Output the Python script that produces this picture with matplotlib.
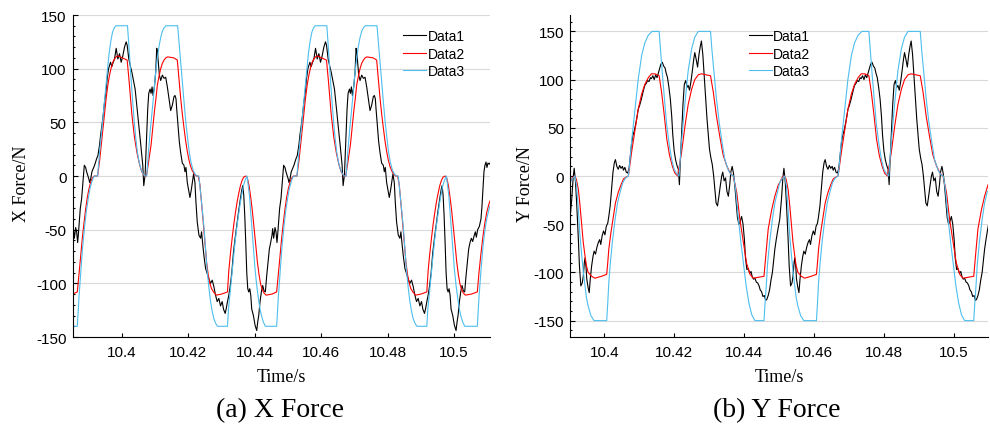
import matplotlib
matplotlib.use("Agg")
import matplotlib.pyplot as plt
from matplotlib.ticker import MultipleLocator

plt.rcParams['font.family'] = ['Liberation Sans', 'DejaVu Sans']
plt.rcParams['axes.unicode_minus'] = False

series_names = ["Data1", "Data2", "Data3"]
x_ticks = [10.4, 10.42, 10.44, 10.46, 10.48, 10.5]
x_tick_labels = ["10.4", "10.42", "10.44", "10.46", "10.48", "10.5"]
y_ticks = [-150, -100, -50, 0, 50, 100, 150]
y_tick_labels = ["-150", "-100", "-50", "0", "50", "100", "150"]

# ---- (a) X Force ----
xf_time1 = [
    10.3852, 10.3854, 10.3857, 10.3861, 10.3864, 10.3867, 10.3869, 10.3872, 10.3875, 10.3879,
    10.3882, 10.3885, 10.3887, 10.3891, 10.3894, 10.3897, 10.3901, 10.3903, 10.3906, 10.3910,
    10.3914, 10.3918, 10.3921, 10.3924, 10.3928, 10.3933, 10.3936, 10.3940, 10.3944, 10.3948,
    10.3952, 10.3956, 10.3960, 10.3963, 10.3966, 10.3970, 10.3974, 10.3978, 10.3983, 10.3988,
    10.3993, 10.3998, 10.4003, 10.4008, 10.4013, 10.4016, 10.4021, 10.4026, 10.4030, 10.4035,
    10.4040, 10.4043, 10.4048, 10.4053, 10.4058, 10.4063, 10.4066, 10.4070, 10.4074, 10.4078,
    10.4081, 10.4085, 10.4088, 10.4091, 10.4094, 10.4098, 10.4102, 10.4105, 10.4107, 10.4110,
    10.4113, 10.4117, 10.4122, 10.4127, 10.4132, 10.4137, 10.4142, 10.4147, 10.4152, 10.4157,
    10.4160, 10.4163, 10.4165, 10.4169, 10.4173, 10.4177, 10.4182, 10.4187, 10.4190, 10.4193,
    10.4197, 10.4202, 10.4205, 10.4209, 10.4213, 10.4216, 10.4220, 10.4223, 10.4227, 10.4232,
    10.4237, 10.4240, 10.4243, 10.4247, 10.4252, 10.4257, 10.4262, 10.4267, 10.4272, 10.4277,
    10.4282, 10.4287, 10.4292, 10.4297, 10.4302, 10.4306, 10.4311, 10.4314, 10.4318, 10.4322,
    10.4326, 10.4331, 10.4336, 10.4341, 10.4346, 10.4351, 10.4356, 10.4361, 10.4364, 10.4367,
    10.4370, 10.4373, 10.4376, 10.4379, 10.4382, 10.4385, 10.4388, 10.4391, 10.4396, 10.4401,
    10.4406, 10.4409, 10.4412, 10.4416, 10.4420, 10.4424, 10.4428, 10.4432, 10.4436, 10.4440,
    10.4444, 10.4448,
    10.4452, 10.4454, 10.4457, 10.4461, 10.4464, 10.4467, 10.4469, 10.4472, 10.4475, 10.4479,
    10.4482, 10.4485, 10.4487, 10.4491, 10.4494, 10.4497, 10.4501, 10.4503, 10.4506, 10.4510,
    10.4514, 10.4518, 10.4521, 10.4524, 10.4528, 10.4533, 10.4536, 10.4540, 10.4544, 10.4548,
    10.4552, 10.4556, 10.4560, 10.4563, 10.4566, 10.4570, 10.4574, 10.4578, 10.4583, 10.4588,
    10.4593, 10.4598, 10.4603, 10.4608, 10.4613, 10.4616, 10.4621, 10.4626, 10.4630, 10.4635,
    10.4640, 10.4643, 10.4648, 10.4653, 10.4658, 10.4663, 10.4666, 10.4670, 10.4674, 10.4678,
    10.4681, 10.4685, 10.4688, 10.4691, 10.4694, 10.4698, 10.4702, 10.4705, 10.4707, 10.4710,
    10.4713, 10.4717, 10.4722, 10.4727, 10.4732, 10.4737, 10.4742, 10.4747, 10.4752, 10.4757,
    10.4760, 10.4763, 10.4765, 10.4769, 10.4773, 10.4777, 10.4782, 10.4787, 10.4790, 10.4793,
    10.4797, 10.4802, 10.4805, 10.4809, 10.4813, 10.4816, 10.4820, 10.4823, 10.4827, 10.4832,
    10.4837, 10.4840, 10.4843, 10.4847, 10.4852, 10.4857, 10.4862, 10.4867, 10.4872, 10.4877,
    10.4882, 10.4887, 10.4892, 10.4897, 10.4902, 10.4906, 10.4911, 10.4914, 10.4918, 10.4922,
    10.4926, 10.4931, 10.4936, 10.4941, 10.4946, 10.4951, 10.4956, 10.4961, 10.4964, 10.4967,
    10.4970, 10.4973, 10.4976, 10.4979, 10.4982, 10.4985, 10.4988, 10.4991, 10.4996, 10.5001,
    10.5006, 10.5009, 10.5012, 10.5016, 10.5020, 10.5024, 10.5028, 10.5032, 10.5036, 10.5040,
    10.5044, 10.5048,
    10.5052, 10.5056, 10.5061, 10.5064, 10.5067, 10.5071, 10.5076, 10.5081, 10.5084, 10.5087,
    10.5090, 10.5093, 10.5096, 10.5099, 10.5102, 10.5106, 10.5110,
]
xf_data1 = [
    -55, -49, -58, -48, -52, -62, -55, -43, -30, -21,
    -9, 4, 10, 8, 4, 1, -3, -6, -3, 4,
    7, 10, 13, 16, 19, 29, 38, 47, 57, 69,
    78, 91, 100, 103, 106, 102, 106, 109, 119, 109,
    114, 106, 112, 120, 125, 122, 109, 102, 97, 89,
    81, 72, 57, 41, 26, 10, -9, 1, 32, 63,
    77, 81, 77, 83, 75, 83, 97, 119, 116, 105,
    94, 89, 94, 91, 92, 83, 72, 61, 66, 74,
    75, 72, 63, 47, 32, 22, 12, 10, 4, 8,
    -6, -15, -20, -13, -4, 2, -6, -24, -43, -55,
    -58, -52, -62, -74, -86, -91, -96, -100, -97, -103,
    -111, -117, -114, -121, -117, -124, -128, -124, -117, -111,
    -103, -90, -71, -58, -46, -34, -23, -13, -9, -18,
    -37, -62, -90, -105, -108, -105, -111, -124, -130, -139,
    -144, -136, -130, -117, -108, -102, -107, -108, -93, -80,
    -68, -62,
    -55, -49, -58, -48, -52, -62, -55, -43, -30, -21,
    -9, 4, 10, 8, 4, 1, -3, -6, -3, 4,
    7, 10, 13, 16, 19, 29, 38, 47, 57, 69,
    78, 91, 100, 103, 106, 102, 106, 109, 119, 109,
    114, 106, 112, 120, 125, 122, 109, 102, 97, 89,
    81, 72, 57, 41, 26, 10, -9, 1, 32, 63,
    77, 81, 77, 83, 75, 83, 97, 119, 116, 105,
    94, 89, 94, 91, 92, 83, 72, 61, 66, 74,
    75, 72, 63, 47, 32, 22, 12, 10, 4, 8,
    -6, -15, -20, -13, -4, 2, -6, -24, -43, -55,
    -58, -52, -62, -74, -86, -91, -96, -100, -97, -103,
    -111, -117, -114, -121, -117, -124, -128, -124, -117, -111,
    -103, -90, -71, -58, -46, -34, -23, -13, -9, -18,
    -37, -62, -90, -105, -108, -105, -111, -124, -130, -139,
    -144, -136, -130, -117, -108, -102, -107, -108, -93, -80,
    -68, -62,
    -58, -61, -55, -52, -57, -50, -47, -40, -28, -12,
    4, 10, 13, 8, 12, 11, 13,
]

xf_time2 = [
    10.3852, 10.3866, 10.3871, 10.3876, 10.3881, 10.3886, 10.3891, 10.3896, 10.3901, 10.3906,
    10.3911, 10.3917, 10.3927, 10.3933, 10.3938, 10.3943, 10.3948, 10.3953, 10.3958, 10.3963,
    10.3968, 10.3973, 10.3978, 10.3983, 10.3988, 10.4002, 10.4016, 10.4022, 10.4030, 10.4038,
    10.4046, 10.4054, 10.4060, 10.4068, 10.4074, 10.4080, 10.4088, 10.4093, 10.4098, 10.4103,
    10.4107, 10.4112, 10.4117, 10.4122, 10.4127, 10.4132, 10.4138, 10.4157, 10.4167, 10.4172,
    10.4177, 10.4182, 10.4187, 10.4192, 10.4197, 10.4202, 10.4207, 10.4212, 10.4218, 10.4224,
    10.4230, 10.4235, 10.4240, 10.4245, 10.4250, 10.4255, 10.4260, 10.4265, 10.4270, 10.4276,
    10.4284, 10.4300, 10.4318, 10.4322, 10.4327, 10.4332, 10.4337, 10.4342, 10.4347, 10.4352,
    10.4357, 10.4362, 10.4367, 10.4373, 10.4378, 10.4383, 10.4388, 10.4393, 10.4398, 10.4403,
    10.4408, 10.4413, 10.4418, 10.4423, 10.4428, 10.4434,
    10.4452, 10.4466, 10.4471, 10.4476, 10.4481, 10.4486, 10.4491, 10.4496, 10.4501, 10.4506,
    10.4511, 10.4517, 10.4527, 10.4533, 10.4538, 10.4543, 10.4548, 10.4553, 10.4558, 10.4563,
    10.4568, 10.4573, 10.4578, 10.4583, 10.4588, 10.4602, 10.4616, 10.4622, 10.4630, 10.4638,
    10.4646, 10.4654, 10.4660, 10.4668, 10.4674, 10.4680, 10.4688, 10.4693, 10.4698, 10.4703,
    10.4707, 10.4712, 10.4717, 10.4722, 10.4727, 10.4732, 10.4738, 10.4757, 10.4767, 10.4772,
    10.4777, 10.4782, 10.4787, 10.4792, 10.4797, 10.4802, 10.4807, 10.4812, 10.4818, 10.4824,
    10.4830, 10.4835, 10.4840, 10.4845, 10.4850, 10.4855, 10.4860, 10.4865, 10.4870, 10.4876,
    10.4884, 10.4900, 10.4918, 10.4922, 10.4927, 10.4932, 10.4937, 10.4942, 10.4947, 10.4952,
    10.4957, 10.4962, 10.4967, 10.4973, 10.4978, 10.4983, 10.4988, 10.4993, 10.4998, 10.5003,
    10.5008, 10.5013, 10.5018, 10.5023, 10.5028, 10.5034,
    10.5052, 10.5070, 10.5075, 10.5081, 10.5087, 10.5093, 10.5099, 10.5105, 10.5111,
]
xf_data2 = [
    -110, -108, -92, -75, -58, -44, -31, -20, -12, -6,
    -2, 0, 0, 14, 29, 45, 60, 73, 85, 94,
    101, 106, 109, 111, 112, 110, 108, 88, 58, 36,
    21, 10, 4, 0, 0, 12, 29, 45, 60, 73,
    85, 93, 100, 105, 108, 110, 111, 110, 108, 90,
    73, 58, 45, 33, 23, 15, 9, 5, 2, 0,
    0, -8, -25, -43, -62, -80, -92, -100, -105, -108,
    -111, -110, -108, -88, -72, -58, -45, -34, -24, -16,
    -9, -4, -1, 0, -2, -9, -20, -33, -48, -64,
    -80, -92, -101, -106, -109, -111,
    -110, -108, -92, -75, -58, -44, -31, -20, -12, -6,
    -2, 0, 0, 14, 29, 45, 60, 73, 85, 94,
    101, 106, 109, 111, 112, 110, 108, 88, 58, 36,
    21, 10, 4, 0, 0, 12, 29, 45, 60, 73,
    85, 93, 100, 105, 108, 110, 111, 110, 108, 90,
    73, 58, 45, 33, 23, 15, 9, 5, 2, 0,
    0, -8, -25, -43, -62, -80, -92, -100, -105, -108,
    -111, -110, -108, -88, -72, -58, -45, -34, -24, -16,
    -9, -4, -1, 0, -2, -9, -20, -33, -48, -64,
    -80, -92, -101, -106, -109, -111,
    -110, -108, -90, -72, -56, -43, -33, -26, -21,
]

xf_time3 = [
    10.3852, 10.3866, 10.3871, 10.3877, 10.3882, 10.3888, 10.3893, 10.3899, 10.3904, 10.3910,
    10.3915, 10.3920, 10.3927, 10.3933, 10.3941, 10.3947, 10.3952, 10.3957, 10.3962, 10.3967,
    10.3972, 10.3977, 10.3982, 10.4017, 10.4022, 10.4027, 10.4032, 10.4037, 10.4042, 10.4047,
    10.4052, 10.4058, 10.4064, 10.4070, 10.4075, 10.4080, 10.4086, 10.4092, 10.4097, 10.4102,
    10.4107, 10.4112, 10.4117, 10.4122, 10.4127, 10.4133, 10.4168, 10.4173, 10.4178, 10.4183,
    10.4188, 10.4193, 10.4198, 10.4203, 10.4208, 10.4214, 10.4220, 10.4226, 10.4232, 10.4237,
    10.4242, 10.4247, 10.4252, 10.4257, 10.4262, 10.4267, 10.4272, 10.4277, 10.4282, 10.4288,
    10.4318, 10.4321, 10.4326, 10.4331, 10.4336, 10.4341, 10.4346, 10.4351, 10.4356, 10.4361,
    10.4366, 10.4371, 10.4377, 10.4384, 10.4391, 10.4396, 10.4401, 10.4406, 10.4411, 10.4416,
    10.4421, 10.4426, 10.4432,
    10.4452, 10.4466, 10.4471, 10.4477, 10.4482, 10.4488, 10.4493, 10.4499, 10.4504, 10.4510,
    10.4515, 10.4520, 10.4527, 10.4533, 10.4541, 10.4547, 10.4552, 10.4557, 10.4562, 10.4567,
    10.4572, 10.4577, 10.4582, 10.4617, 10.4622, 10.4627, 10.4632, 10.4637, 10.4642, 10.4647,
    10.4652, 10.4658, 10.4664, 10.4670, 10.4675, 10.4680, 10.4686, 10.4692, 10.4697, 10.4702,
    10.4707, 10.4712, 10.4717, 10.4722, 10.4727, 10.4733, 10.4768, 10.4773, 10.4778, 10.4783,
    10.4788, 10.4793, 10.4798, 10.4803, 10.4808, 10.4814, 10.4820, 10.4826, 10.4832, 10.4837,
    10.4842, 10.4847, 10.4852, 10.4857, 10.4862, 10.4867, 10.4872, 10.4877, 10.4882, 10.4888,
    10.4918, 10.4921, 10.4926, 10.4931, 10.4936, 10.4941, 10.4946, 10.4951, 10.4956, 10.4961,
    10.4966, 10.4971, 10.4977, 10.4984, 10.4991, 10.4996, 10.5001, 10.5006, 10.5011, 10.5016,
    10.5021, 10.5026, 10.5032,
    10.5052, 10.5070, 10.5075, 10.5081, 10.5087, 10.5093, 10.5099, 10.5105, 10.5111,
]
xf_data3 = [
    -140, -140, -113, -88, -66, -47, -33, -21, -12, -5,
    -1, 0, 0, 22, 47, 67, 84, 100, 115, 126,
    134, 138, 140, 140, 118, 94, 72, 52, 35, 22,
    13, 6, 2, 0, 0, 22, 44, 63, 80, 97,
    110, 121, 129, 135, 138, 140, 140, 122, 103, 84,
    66, 49, 35, 22, 13, 6, 2, 0, 0, -15,
    -31, -47, -68, -89, -104, -117, -126, -133, -137, -140,
    -140, -124, -108, -92, -76, -61, -48, -37, -26, -17,
    -9, -4, 0, -18, -46, -67, -87, -102, -114, -124,
    -131, -136, -140,
    -140, -140, -113, -88, -66, -47, -33, -21, -12, -5,
    -1, 0, 0, 22, 47, 67, 84, 100, 115, 126,
    134, 138, 140, 140, 118, 94, 72, 52, 35, 22,
    13, 6, 2, 0, 0, 22, 44, 63, 80, 97,
    110, 121, 129, 135, 138, 140, 140, 122, 103, 84,
    66, 49, 35, 22, 13, 6, 2, 0, 0, -15,
    -31, -47, -68, -89, -104, -117, -126, -133, -137, -140,
    -140, -124, -108, -92, -76, -61, -48, -37, -26, -17,
    -9, -4, 0, -18, -46, -67, -87, -102, -114, -124,
    -131, -136, -140,
    -140, -140, -113, -88, -66, -50, -39, -31, -25,
]

# ---- (b) Y Force ----
yf_time1 = [
    10.3902, 10.3907, 10.3911, 10.3914, 10.3918, 10.3922, 10.3926, 10.3929, 10.3933, 10.3937,
    10.3940, 10.3943, 10.3945, 10.3948, 10.3950, 10.3954, 10.3957, 10.3960, 10.3964, 10.3968,
    10.3971, 10.3975, 10.3979, 10.3983, 10.3987, 10.3990, 10.3994, 10.3998, 10.4002, 10.4006,
    10.4010, 10.4013, 10.4017, 10.4021, 10.4025, 10.4029, 10.4032, 10.4036, 10.4040, 10.4044,
    10.4048, 10.4052, 10.4055, 10.4059, 10.4063, 10.4067, 10.4071, 10.4074, 10.4078, 10.4082,
    10.4086, 10.4090, 10.4094, 10.4097, 10.4101, 10.4105, 10.4109, 10.4113, 10.4116, 10.4120,
    10.4124, 10.4128, 10.4132, 10.4135, 10.4139, 10.4143, 10.4147, 10.4151, 10.4155, 10.4158,
    10.4162, 10.4166, 10.4170, 10.4174, 10.4177, 10.4181, 10.4185, 10.4189, 10.4193, 10.4196,
    10.4200, 10.4204, 10.4208, 10.4212, 10.4215, 10.4217, 10.4221, 10.4225, 10.4229, 10.4233,
    10.4237, 10.4240, 10.4244, 10.4248, 10.4252, 10.4256, 10.4259, 10.4263, 10.4267, 10.4271,
    10.4275, 10.4278, 10.4282, 10.4286, 10.4290, 10.4294, 10.4298, 10.4301, 10.4305, 10.4309,
    10.4313, 10.4317, 10.4320, 10.4324, 10.4328, 10.4332, 10.4336, 10.4339, 10.4343, 10.4347,
    10.4351, 10.4355, 10.4359, 10.4362, 10.4366, 10.4370, 10.4374, 10.4378, 10.4381, 10.4385,
    10.4389, 10.4393, 10.4397, 10.4401, 10.4404, 10.4408, 10.4412, 10.4416, 10.4420, 10.4423,
    10.4427, 10.4431, 10.4435, 10.4439, 10.4443, 10.4446, 10.4450, 10.4454, 10.4458, 10.4462,
    10.4465, 10.4469, 10.4473, 10.4477, 10.4481, 10.4484, 10.4488, 10.4492, 10.4496, 10.4500,
    10.4502, 10.4507, 10.4511, 10.4514, 10.4518, 10.4522, 10.4526, 10.4529, 10.4533, 10.4537,
    10.4540, 10.4543, 10.4545, 10.4548, 10.4550, 10.4554, 10.4557, 10.4560, 10.4564, 10.4568,
    10.4571, 10.4575, 10.4579, 10.4583, 10.4587, 10.4590, 10.4594, 10.4598, 10.4602, 10.4606,
    10.4610, 10.4613, 10.4617, 10.4621, 10.4625, 10.4629, 10.4632, 10.4636, 10.4640, 10.4644,
    10.4648, 10.4652, 10.4655, 10.4659, 10.4663, 10.4667, 10.4671, 10.4674, 10.4678, 10.4682,
    10.4686, 10.4690, 10.4694, 10.4697, 10.4701, 10.4705, 10.4709, 10.4713, 10.4716, 10.4720,
    10.4724, 10.4728, 10.4732, 10.4735, 10.4739, 10.4743, 10.4747, 10.4751, 10.4755, 10.4758,
    10.4762, 10.4766, 10.4770, 10.4774, 10.4777, 10.4781, 10.4785, 10.4789, 10.4793, 10.4796,
    10.4800, 10.4804, 10.4808, 10.4812, 10.4815, 10.4817, 10.4821, 10.4825, 10.4829, 10.4833,
    10.4837, 10.4840, 10.4844, 10.4848, 10.4852, 10.4856, 10.4859, 10.4863, 10.4867, 10.4871,
    10.4875, 10.4878, 10.4882, 10.4886, 10.4890, 10.4894, 10.4898, 10.4901, 10.4905, 10.4909,
    10.4913, 10.4917, 10.4920, 10.4924, 10.4928, 10.4932, 10.4936, 10.4939, 10.4943, 10.4947,
    10.4951, 10.4955, 10.4959, 10.4962, 10.4966, 10.4970, 10.4974, 10.4978, 10.4981, 10.4985,
    10.4989, 10.4993, 10.4997, 10.5001, 10.5004, 10.5008, 10.5012, 10.5016, 10.5020, 10.5023,
    10.5027, 10.5031, 10.5035, 10.5039, 10.5043, 10.5046, 10.5050, 10.5054, 10.5058, 10.5062,
    10.5065, 10.5069, 10.5073, 10.5077, 10.5081, 10.5084, 10.5088, 10.5092, 10.5096, 10.5100,
]
yf_data1 = [
    -45, -24, -2, 8, -7, -35, -66, -93, -114, -111,
    -104, -90, -85, -95, -107, -116, -121, -107, -93, -83,
    -78, -81, -74, -69, -66, -71, -62, -57, -61, -52,
    -49, -42, -31, -14, 4, 14, 17, 10, 7, 11,
    8, 10, 6, 9, 4, 3, 8, 19, 33, 42,
    47, 54, 62, 69, 73, 78, 84, 90, 94, 96,
    99, 98, 102, 101, 104, 100, 105, 102, 107, 111,
    116, 118, 114, 112, 107, 102, 92, 80, 62, 43,
    26, 17, 11, 7, -9, 10, 42, 73, 95, 99,
    92, 94, 89, 98, 109, 121, 128, 121, 113, 126,
    135, 140, 126, 104, 81, 59, 42, 28, 19, 12,
    0, -16, -28, -31, -21, -10, 0, 4, -5, -2,
    -16, -21, -9, 4, 10, 2, -12, -29, -43, -50,
    -47, -42, -50, -66, -85, -97, -96, -101, -99, -104,
    -107, -106, -110, -111, -114, -118, -120, -125, -124, -129,
    -128, -124, -118, -108, -100, -90, -76, -66, -57, -49,
    -45, -24, -2, 8, -7, -35, -66, -93, -114, -111,
    -104, -90, -85, -95, -107, -116, -121, -107, -93, -83,
    -78, -81, -74, -69, -66, -71, -62, -57, -61, -52,
    -49, -42, -31, -14, 4, 14, 17, 10, 7, 11,
    8, 10, 6, 9, 4, 3, 8, 19, 33, 42,
    47, 54, 62, 69, 73, 78, 84, 90, 94, 96,
    99, 98, 102, 101, 104, 100, 105, 102, 107, 111,
    116, 118, 114, 112, 107, 102, 92, 80, 62, 43,
    26, 17, 11, 7, -9, 10, 42, 73, 95, 99,
    92, 94, 89, 98, 109, 121, 128, 121, 113, 126,
    135, 140, 126, 104, 81, 59, 42, 28, 19, 12,
    0, -16, -28, -31, -21, -10, 0, 4, -5, -2,
    -16, -21, -9, 4, 10, 2, -12, -29, -43, -50,
    -47, -42, -50, -66, -85, -97, -96, -101, -99, -104,
    -107, -106, -110, -111, -114, -118, -120, -125, -124, -129,
    -128, -124, -118, -108, -100, -90, -76, -66, -57, -49,
]

yf_time2 = [
    10.3902, 10.3908, 10.3914, 10.3920, 10.3926, 10.3930, 10.3935, 10.3940, 10.3945, 10.3949,
    10.3954, 10.3964, 10.3973, 10.3992, 10.4007, 10.4010, 10.4013, 10.4019, 10.4026, 10.4032,
    10.4040, 10.4048, 10.4055, 10.4063, 10.4069, 10.4078, 10.4088, 10.4097, 10.4107, 10.4116,
    10.4126, 10.4135, 10.4145, 10.4157, 10.4164, 10.4172, 10.4179, 10.4187, 10.4195, 10.4202,
    10.4210, 10.4221, 10.4231, 10.4240, 10.4250, 10.4259, 10.4269, 10.4278, 10.4304, 10.4312,
    10.4321, 10.4331, 10.4340, 10.4350, 10.4360, 10.4369, 10.4379, 10.4388, 10.4398, 10.4407,
    10.4417, 10.4426, 10.4457, 10.4462, 10.4469, 10.4479, 10.4488, 10.4498,
    10.4502, 10.4508, 10.4514, 10.4520, 10.4526, 10.4530, 10.4535, 10.4540, 10.4545, 10.4549,
    10.4554, 10.4564, 10.4573, 10.4592, 10.4607, 10.4610, 10.4613, 10.4619, 10.4626, 10.4632,
    10.4640, 10.4648, 10.4655, 10.4663, 10.4669, 10.4678, 10.4688, 10.4697, 10.4707, 10.4716,
    10.4726, 10.4735, 10.4745, 10.4757, 10.4764, 10.4772, 10.4779, 10.4787, 10.4795, 10.4802,
    10.4810, 10.4821, 10.4831, 10.4840, 10.4850, 10.4859, 10.4869, 10.4878, 10.4904, 10.4912,
    10.4921, 10.4931, 10.4940, 10.4950, 10.4960, 10.4969, 10.4979, 10.4988, 10.4998, 10.5007,
    10.5017, 10.5026, 10.5057, 10.5062, 10.5069, 10.5079, 10.5088, 10.5098,
]
yf_data2 = [
    -7, -2, 0, -3, -14, -28, -48, -69, -83, -93,
    -100, -104, -106, -104, -102, -90, -76, -59, -42, -28,
    -17, -9, -3, -1, 0, 24, 48, 69, 85, 95,
    102, 106, 106, 104, 87, 62, 38, 21, 10, 3,
    0, 24, 52, 74, 90, 100, 105, 106, 104, 87,
    62, 40, 22, 11, 3, 0, -17, -45, -69, -90,
    -102, -106, -104, -83, -55, -35, -21, -9,
    -7, -2, 0, -3, -14, -28, -48, -69, -83, -93,
    -100, -104, -106, -104, -102, -90, -76, -59, -42, -28,
    -17, -9, -3, -1, 0, 24, 48, 69, 85, 95,
    102, 106, 106, 104, 87, 62, 38, 21, 10, 3,
    0, 24, 52, 74, 90, 100, 105, 106, 104, 87,
    62, 40, 22, 11, 3, 0, -17, -45, -69, -90,
    -102, -106, -104, -83, -55, -35, -21, -9,
]

yf_time3 = [
    10.3902, 10.3908, 10.3916, 10.3921, 10.3926, 10.3930, 10.3935, 10.3940, 10.3945, 10.3949,
    10.3954, 10.3962, 10.3971, 10.4007, 10.4010, 10.4013, 10.4017, 10.4023, 10.4031, 10.4038,
    10.4046, 10.4053, 10.4061, 10.4069, 10.4073, 10.4078, 10.4088, 10.4097, 10.4107, 10.4116,
    10.4126, 10.4137, 10.4157, 10.4161, 10.4166, 10.4172, 10.4178, 10.4185, 10.4193, 10.4200,
    10.4208, 10.4214, 10.4221, 10.4231, 10.4240, 10.4250, 10.4259, 10.4269, 10.4304, 10.4308,
    10.4314, 10.4321, 10.4329, 10.4337, 10.4345, 10.4355, 10.4364, 10.4370, 10.4376, 10.4383,
    10.4391, 10.4399, 10.4406, 10.4414, 10.4422, 10.4431, 10.4457, 10.4460, 10.4464, 10.4467,
    10.4473, 10.4481, 10.4488, 10.4496,
    10.4502, 10.4508, 10.4516, 10.4521, 10.4526, 10.4530, 10.4535, 10.4540, 10.4545, 10.4549,
    10.4554, 10.4562, 10.4571, 10.4607, 10.4610, 10.4613, 10.4617, 10.4623, 10.4631, 10.4638,
    10.4646, 10.4653, 10.4661, 10.4669, 10.4673, 10.4678, 10.4688, 10.4697, 10.4707, 10.4716,
    10.4726, 10.4737, 10.4757, 10.4761, 10.4766, 10.4772, 10.4778, 10.4785, 10.4793, 10.4800,
    10.4808, 10.4814, 10.4821, 10.4831, 10.4840, 10.4850, 10.4859, 10.4869, 10.4904, 10.4908,
    10.4914, 10.4921, 10.4929, 10.4937, 10.4945, 10.4955, 10.4964, 10.4970, 10.4976, 10.4983,
    10.4991, 10.4999, 10.5006, 10.5014, 10.5022, 10.5031, 10.5057, 10.5060, 10.5064, 10.5067,
    10.5073, 10.5081, 10.5088, 10.5096,
]
yf_data3 = [
    -7, -3, 0, -10, -35, -59, -80, -99, -114, -126,
    -135, -145, -150, -150, -132, -111, -92, -69, -45, -28,
    -16, -7, -2, 0, 14, 35, 69, 100, 125, 138,
    146, 150, 150, 131, 107, 81, 55, 35, 17, 7,
    2, 0, 35, 76, 109, 132, 144, 150, 150, 131,
    107, 80, 55, 35, 17, 6, 1, 0, -14, -42,
    -69, -93, -114, -132, -144, -150, -150, -132, -111, -92,
    -69, -45, -28, -16,
    -7, -3, 0, -10, -35, -59, -80, -99, -114, -126,
    -135, -145, -150, -150, -132, -111, -92, -69, -45, -28,
    -16, -7, -2, 0, 14, 35, 69, 100, 125, 138,
    146, 150, 150, 131, 107, 81, 55, 35, 17, 7,
    2, 0, 35, 76, 109, 132, 144, 150, 150, 131,
    107, 80, 55, 35, 17, 6, 1, 0, -14, -42,
    -69, -93, -114, -132, -144, -150, -150, -132, -111, -92,
    -69, -45, -28, -16,
]

line_colors = ["#000000", "#ff0000", "#4dbeee"]
serif = ["Liberation Serif", "DejaVu Serif"]


def make_panel(ax, times, values, xlim, ylim, ylabel, ylabel_x, legend_x):
    for t, v, c, name in zip(times, values, line_colors, series_names):
        ax.plot(t, v, color=c, lw=0.8, label=name)

    ax.set_xlim(*xlim)
    ax.set_ylim(*ylim)
    ax.set_xticks(x_ticks)
    ax.set_xticklabels(x_tick_labels)
    ax.set_yticks(y_ticks)
    ax.set_yticklabels(y_tick_labels)
    ax.yaxis.set_minor_locator(MultipleLocator(10))

    ax.yaxis.grid(True, color="#d9d9d9", lw=0.8)
    ax.set_axisbelow(True)
    for side in ["top", "right"]:
        ax.spines[side].set_visible(False)
    for side in ["left", "bottom"]:
        ax.spines[side].set_linewidth(0.8)

    # ticks point into the plot area
    ax.tick_params(axis="both", which="major", direction="in", width=0.8, labelsize=11)
    ax.tick_params(axis="y", which="major", length=3.4, pad=4.3)
    ax.tick_params(axis="y", which="minor", direction="in", length=1.7, width=0.8)
    ax.tick_params(axis="x", which="major", length=3.2, pad=5.5)

    ax.set_xlabel("Time/s", fontsize=13, family=serif)
    ax.xaxis.set_label_coords(0.5, -0.124)
    ax.xaxis.label.set_va("center")
    ax.set_ylabel(ylabel, fontsize=13, family=serif)
    ax.yaxis.set_label_coords(ylabel_x, 0.478)
    ax.yaxis.label.set_va("center")

    ax.legend(frameon=False, loc="upper left", bbox_to_anchor=(legend_x, 0.957),
              borderaxespad=0, borderpad=0, handlelength=1.68, handletextpad=0.08,
              labelspacing=0.27, fontsize=10)


fig = plt.figure(figsize=(9.9, 4.27), dpi=100)
ax1 = fig.add_axes([0.0734, 0.2084, 0.4215, 0.7541])
ax2 = fig.add_axes([0.5761, 0.2084, 0.4216, 0.7541])

make_panel(ax1, [xf_time1, xf_time2, xf_time3], [xf_data1, xf_data2, xf_data3],
           (10.3852, 10.5108), (-150, 150), "X Force/N", -0.122, 0.792)
make_panel(ax2, [yf_time1, yf_time2, yf_time3], [yf_data1, yf_data2, yf_data3],
           (10.3903, 10.5097), (-167, 167), "Y Force/N", -0.1085, 0.427)

fig.text(280.5 / 990, 1 - 410.7 / 427, "(a) X Force", ha="center", va="center",
         fontsize=20, family=serif)
fig.text(776.7 / 990, 1 - 410.7 / 427, "(b) Y Force", ha="center", va="center",
         fontsize=20, family=serif)

fig.savefig("out.png", dpi=100)
